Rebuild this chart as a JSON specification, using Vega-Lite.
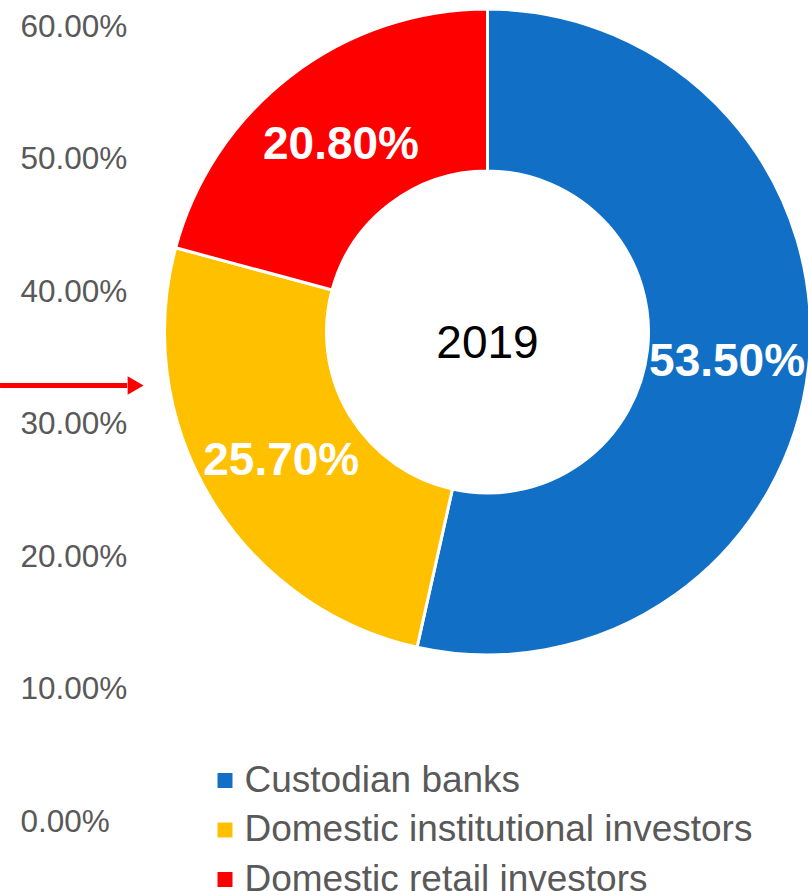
{
  "$schema": "https://vega.github.io/schema/vega-lite/v6.json",
  "width": 641,
  "height": 664,
  "autosize": {"type": "none"},
  "padding": {"left": 167, "top": 0, "right": 0, "bottom": 227},
  "background": "white",
  "config": {
    "view": {"stroke": null},
    "font": "Liberation Sans",
    "axisY": {
      "domain": false,
      "ticks": false,
      "grid": false,
      "labelAlign": "left",
      "labelPadding": 147,
      "labelFont": "Liberation Sans",
      "labelFontSize": 31.5,
      "labelColor": "#595959",
      "title": null
    },
    "legend": {
      "orient": "none",
      "legendX": 39.5,
      "legendY": 762,
      "padding": 0,
      "symbolType": "square",
      "symbolSize": 225,
      "symbolStrokeWidth": 0,
      "labelFont": "Liberation Sans",
      "labelFontSize": 37,
      "labelColor": "#595959",
      "labelLimit": 2000,
      "labelOffset": 1,
      "rowPadding": 11.5
    }
  },
  "datasets": {
    "shares": [
      {"category": "Custodian banks", "value": 0.535},
      {"category": "Domestic institutional investors", "value": 0.257},
      {"category": "Domestic retail investors", "value": 0.208}
    ],
    "arrow": [
      {"x_start": -26.05, "x_end": -6.24, "x_head": -4.9, "level": 0.3294}
    ],
    "center": [{"year": "2019"}]
  },
  "layer": [
    {
      "data": {"name": "arrow"},
      "encoding": {
        "y": {
          "field": "level",
          "type": "quantitative",
          "scale": {"domain": [0, 0.6], "range": [822, 27], "nice": false, "zero": false},
          "axis": {"values": [0, 0.1, 0.2, 0.3, 0.4, 0.5, 0.6], "format": ".2%", "title": null}
        }
      },
      "layer": [
        {
          "mark": {"type": "rule", "color": "#FF0000", "strokeWidth": 5},
          "encoding": {
            "x": {"field": "x_start", "type": "quantitative", "scale": {"domain": [0, 100], "nice": false, "zero": false}, "axis": null},
            "x2": {"field": "x_end"}
          }
        },
        {
          "mark": {"type": "point", "shape": "triangle-right", "filled": true, "color": "#FF0000", "size": 340, "opacity": 1},
          "encoding": {
            "x": {"field": "x_head", "type": "quantitative", "axis": null}
          }
        }
      ]
    },
    {
      "data": {"name": "shares"},
      "mark": {"type": "arc", "radius": 323, "radius2": 161, "stroke": "white", "strokeWidth": 3},
      "encoding": {
        "theta": {"field": "value", "type": "quantitative", "stack": true},
        "order": {"field": "category", "type": "nominal", "sort": "ascending"},
        "color": {
          "field": "category",
          "type": "nominal",
          "scale": {
            "domain": ["Custodian banks", "Domestic institutional investors", "Domestic retail investors"],
            "range": ["#1170C6", "#FFC000", "#FF0000"]
          },
          "legend": {"title": null}
        }
      }
    },
    {
      "data": {"name": "shares"},
      "mark": {"type": "text", "radius": 241, "dy": 4, "fontSize": 46, "fontWeight": "bold", "color": "white", "font": "Liberation Sans"},
      "encoding": {
        "theta": {"field": "value", "type": "quantitative", "stack": true},
        "order": {"field": "category", "type": "nominal", "sort": "ascending"},
        "text": {"field": "value", "type": "quantitative", "format": ".2%"}
      }
    },
    {
      "data": {"name": "center"},
      "mark": {"type": "text", "fontSize": 46, "color": "black", "font": "Liberation Sans", "dy": 12},
      "encoding": {
        "text": {"field": "year", "type": "nominal"}
      }
    }
  ]
}
